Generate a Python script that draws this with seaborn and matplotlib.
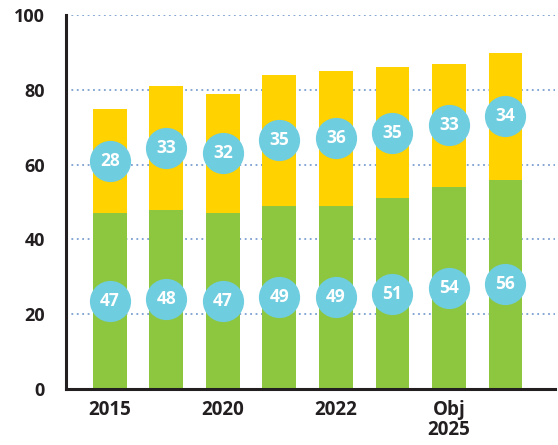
import pandas as pd
import matplotlib.pyplot as plt
import seaborn as sns

# Chart data
labels = ["2015", "", "2020", "", "2022", "", "Obj\n2025", ""]
green_vals = [47, 48, 47, 49, 49, 51, 54, 56]
yellow_vals = [28, 33, 32, 35, 36, 35, 33, 34]

green = '#8dc63f'
yellow = '#ffd200'
circle = '#6ecddf'
grid_col = '#7b9fd0'

df = pd.DataFrame({'pos': range(len(labels)), 'green': green_vals, 'yellow': yellow_vals})
df['total'] = df['green'] + df['yellow']

sns.set_style('white')
plt.rcParams['font.family'] = ['Open Sans', 'DejaVu Sans']

fig = plt.figure(figsize=(5.58, 4.45), dpi=100)
ax = fig.add_axes([0.118, 0.126, 0.877, 0.840])

# Stacked bars: draw totals first, then green part on top
sns.barplot(data=df, x='pos', y='total', color=yellow, saturation=1, width=0.6,
            linewidth=0, ax=ax, zorder=2)
sns.barplot(data=df, x='pos', y='green', color=green, saturation=1, width=0.6,
            linewidth=0, ax=ax, zorder=3)

# Circle labels at the middle of each segment
mid_green = df['green'] / 2
mid_yellow = df['green'] + df['yellow'] / 2
for col, mids in [('green', mid_green), ('yellow', mid_yellow)]:
    ax.scatter(df['pos'], mids, s=880, color=circle, zorder=4, linewidths=0)
    for x, y, v in zip(df['pos'], mids, df[col]):
        ax.text(x, y, str(v), ha='center', va='center', color='white',
                fontsize=12.5, fontweight='bold', zorder=5)

ax.set_xlim(-0.78, 7.88)
ax.set_ylim(0, 100)
ax.set_yticks([0, 20, 40, 60, 80, 100])
ax.set_xticks(range(len(labels)))
ax.set_xticklabels(labels, fontsize=13.5, fontweight='bold', color='#231f20', linespacing=1.0)
ax.set_yticklabels(['0', '20', '40', '60', '80', '100'], fontsize=13, fontweight='bold', color='#231f20')
ax.tick_params(axis='y', length=0, pad=15)
ax.tick_params(axis='x', length=0, pad=8)
ax.set_xlabel('')
ax.set_ylabel('')

ax.set_axisbelow(True)
ax.yaxis.grid(True, color=grid_col, linestyle=(0, (1, 2)), linewidth=1.3)
ax.xaxis.grid(False)

for s in ['top', 'right']:
    ax.spines[s].set_visible(False)
for s in ['left', 'bottom']:
    ax.spines[s].set_color('#231f20')
    ax.spines[s].set_linewidth(2.2)
    ax.spines[s].set_zorder(6)

plt.savefig('out.png', dpi=100)
